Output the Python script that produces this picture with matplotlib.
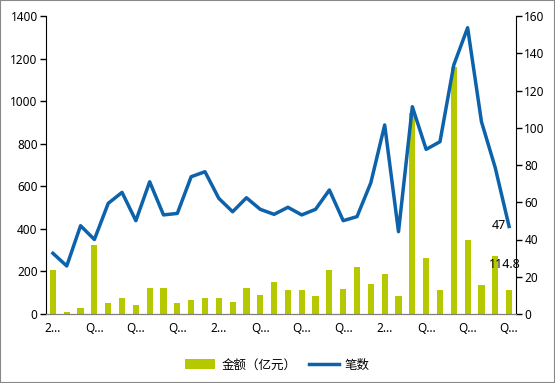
import numpy as np
import matplotlib
matplotlib.use("Agg")
import matplotlib.pyplot as plt
from matplotlib.patches import Rectangle

plt.rcParams['font.family'] = ['Noto Sans', 'Noto Sans CJK SC', 'DejaVu Sans']

# amount (100M yuan), bars on left axis
amount = [207, 10, 30, 324, 52, 75, 42, 122, 122, 52, 66, 75, 75, 56, 122, 89, 150,
          113, 113, 85, 207, 117, 221, 141, 188, 85, 945, 263, 113, 1160, 348, 136, 272, 114.8]
# deal count, line on right axis
count = [32.6, 25.8, 47.4, 40, 59.4, 65.3, 50.1, 71, 53.2, 54, 73.7, 76.4, 62.1, 54.9, 62.4, 56.2, 53.5,
         57.3, 53.2, 56.2, 66.6, 50.1, 52.3, 70.5, 101.5, 44.2, 111.3, 88.4, 92.5, 133.7, 153.7, 103.3, 78.5, 47]
tick_labels = ["2…", "Q…", "Q…", "Q…", "2…", "Q…", "Q…", "Q…", "2…", "Q…", "Q…", "Q…"]

bar_color = '#b5c800'
line_color = '#0c63ab'

fig = plt.figure(figsize=(5.55, 3.83), dpi=100)
ax = fig.add_axes([46 / 555, 69 / 383, 470 / 555, 298 / 383])
ax2 = ax.twinx()

x = np.arange(len(amount))
ax.bar(x, amount, width=0.45, color=bar_color, label='金额（亿元）', zorder=2)
ax2.plot(x, count, color=line_color, linewidth=2.5, label='笔数', zorder=3)

ax.set_xlim(-0.5, len(amount) - 0.5)
ax.set_ylim(0, 1400)
ax.set_yticks(range(0, 1401, 200))
ax2.set_ylim(0, 160)
ax2.set_yticks(range(0, 161, 20))
ax.set_xticks(x[::3])
ax.set_xticklabels(tick_labels)

for a in (ax, ax2):
    a.spines['top'].set_visible(False)
    a.tick_params(labelsize=8.5, colors='black', length=4, width=1, pad=2)
ax.patch.set_visible(False)
ax.spines['right'].set_visible(False)
ax.spines['bottom'].set_color('#7f7f7f')
ax2.spines['bottom'].set_color('#7f7f7f')
ax2.spines['left'].set_visible(False)
ax.tick_params(axis='x', length=0, pad=6)

# end labels
ax2.annotate('47', (x[-1], count[-1]), xytext=(-2, 1), textcoords='offset points',
             ha='right', va='center', fontsize=9)
ax.annotate('114.8', (x[-1], amount[-1]), xytext=(-3, 18), textcoords='offset points',
            ha='center', va='center', fontsize=9)

h1, l1 = ax.get_legend_handles_labels()
h2, l2 = ax2.get_legend_handles_labels()
fig.legend(h1 + h2, l1 + l2, loc='center', bbox_to_anchor=(0.5, 18 / 383), ncol=2,
           frameon=False, prop={'family': ['Noto Sans CJK SC'], 'size': 9},
           handlelength=2.4, handleheight=0.8, columnspacing=1.0, handletextpad=0.5)

fig.patches.append(Rectangle((0, 0), 1, 1, transform=fig.transFigure, fill=False,
                             edgecolor='#888888', linewidth=1.5))

fig.savefig('out.png', dpi=100)
